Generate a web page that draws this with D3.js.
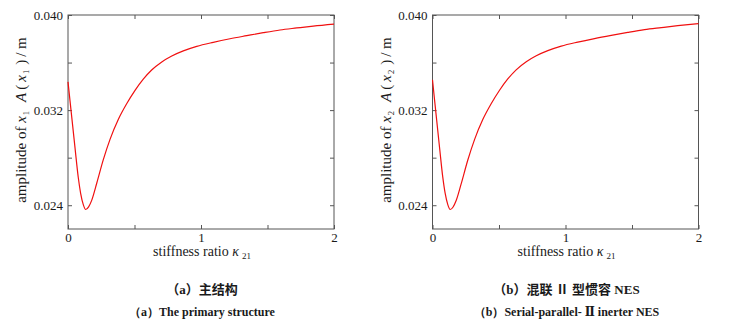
<!DOCTYPE html>
<html>
<head>
<meta charset="utf-8">
<script src="https://cdn.jsdelivr.net/npm/d3@7/dist/d3.min.js"></script>
<style>
  html, body { margin: 0; padding: 0; background: #fff; }
  svg { display: block; }
</style>
</head>
<body>
<svg id="chart" width="729" height="323"></svg>
<script>
// stiffness ratio κ21 sample points
const kappa = [0, 0.015, 0.053, 0.077, 0.095, 0.115, 0.133, 0.155, 0.178, 0.216, 0.265, 0.316, 0.378, 0.441, 0.504, 0.566, 0.629, 0.705, 0.780, 0.867, 0.968, 1.092, 1.218, 1.344, 1.468, 1.594, 1.720, 1.844, 2.0];
// amplitude of the primary structure x1 (m)
const ampX1 = [0.03438, 0.03280, 0.02880, 0.02635, 0.02500, 0.02405, 0.02364, 0.02386, 0.02441, 0.02585, 0.02781, 0.02954, 0.03121, 0.03253, 0.03366, 0.03460, 0.03537, 0.03605, 0.03655, 0.03698, 0.03736, 0.03770, 0.03800, 0.03826, 0.03851, 0.03874, 0.03891, 0.03907, 0.03924];
// amplitude of x2 for the serial-parallel-II inerter NES (m)
const ampX2 = [0.03455, 0.03290, 0.02886, 0.02638, 0.02501, 0.02405, 0.02364, 0.02385, 0.02439, 0.02581, 0.02778, 0.02952, 0.03120, 0.03253, 0.03367, 0.03462, 0.03539, 0.03607, 0.03657, 0.03700, 0.03738, 0.03772, 0.03802, 0.03829, 0.03854, 0.03877, 0.03894, 0.03910, 0.03928];

const xTicks = [0, 0.5, 1, 1.5, 2];
const xTickLabels = ["0", "", "1", "", "2"];
const yTicks = [0.024, 0.028, 0.032, 0.036, 0.040];
const yTickLabels = ["0.024", "", "0.032", "", "0.040"];

const panels = [
  { left: 68, sub: "1", values: ampX1,
    captionCn: "（a）主结构", captionEn: "（a）The primary structure" },
  { left: 432.5, sub: "2", values: ampX2,
    captionCn: "（b）混联 Ⅱ 型惯容 NES", captionEn: "（b）Serial-parallel- Ⅱ  inerter NES" }
];

const SERIF = "'Liberation Serif', 'Times New Roman', 'DejaVu Serif', serif";
const CJK = "'Liberation Serif', 'Noto Sans CJK SC', serif";
const INK = "#1a1a1a";

const svg = d3.select("#chart");
const plotW = 266, plotTop = 15, plotBottom = 229;

panels.forEach(p => {
  const x = d3.scaleLinear().domain([0, 2]).range([p.left, p.left + plotW]);
  const y = d3.scaleLinear().domain([0.022, 0.040]).range([plotBottom, plotTop]);
  const g = svg.append("g");

  // frame
  g.append("rect")
    .attr("x", p.left).attr("y", plotTop)
    .attr("width", plotW).attr("height", plotBottom - plotTop)
    .attr("fill", "none").attr("stroke", "#555").attr("stroke-width", 1);

  const tickStyle = sel => {
    sel.select(".domain").remove();
    sel.selectAll(".tick line").attr("stroke", "#555");
    sel.selectAll(".tick text")
      .style("font-family", SERIF).style("font-size", "13px").style("fill", INK);
  };

  // bottom axis with labels, ticks inside
  g.append("g").attr("transform", `translate(0,${plotBottom})`)
    .call(d3.axisBottom(x).tickValues(xTicks).tickSize(-4).tickPadding(4)
      .tickFormat((d, i) => xTickLabels[i]))
    .call(tickStyle);
  // top mirror ticks
  g.append("g").attr("transform", `translate(0,${plotTop})`)
    .call(d3.axisTop(x).tickValues(xTicks).tickSize(-4).tickFormat(""))
    .call(tickStyle);
  // left axis with labels
  g.append("g").attr("transform", `translate(${p.left},0)`)
    .call(d3.axisLeft(y).tickValues(yTicks).tickSize(-4).tickPadding(5)
      .tickFormat((d, i) => yTickLabels[i]))
    .call(tickStyle);
  // right mirror ticks
  g.append("g").attr("transform", `translate(${p.left + plotW},0)`)
    .call(d3.axisRight(y).tickValues(yTicks).tickSize(-4).tickFormat(""))
    .call(tickStyle);

  // amplitude curve
  const line = d3.line()
    .x((d, i) => x(kappa[i]))
    .y(d => y(d))
    .curve(d3.curveMonotoneX);
  g.append("path")
    .datum(p.values)
    .attr("d", line)
    .attr("fill", "none")
    .attr("stroke", "#f01010")
    .attr("stroke-width", 1.2);

  // x-axis title
  const xt = g.append("text")
    .attr("x", p.left + plotW / 2 + 1).attr("y", 256)
    .attr("text-anchor", "middle")
    .style("font-family", SERIF).style("font-size", "14px").style("fill", INK);
  xt.append("tspan").text("stiffness ratio ");
  xt.append("tspan").style("font-style", "italic").text("κ");
  xt.append("tspan").style("font-size", "9px").attr("dy", 3).attr("dx", 3).text("21");

  // y-axis title
  const yt = g.append("text")
    .attr("transform", `translate(${p.left - 42},${(plotTop + plotBottom) / 2 - 2}) rotate(-90)`)
    .attr("text-anchor", "middle")
    .style("font-family", SERIF).style("font-size", "15px").style("fill", INK);
  yt.append("tspan").text("amplitude of ");
  yt.append("tspan").style("font-style", "italic").text("x");
  yt.append("tspan").style("font-size", "8.5px").attr("dy", 3).attr("dx", 1).text(p.sub);
  yt.append("tspan").attr("dy", -3).attr("dx", 9).style("font-style", "italic").text("A");
  yt.append("tspan").attr("dx", 3).text("(");
  yt.append("tspan").attr("dx", 3).style("font-style", "italic").text("x");
  yt.append("tspan").style("font-size", "8.5px").attr("dy", 3).attr("dx", 1).text(p.sub);
  yt.append("tspan").attr("dy", -3).attr("dx", 5).text(")");
  yt.append("tspan").attr("dx", 3).text("/ m");

  // captions
  g.append("text")
    .attr("x", p.left + plotW / 2 + 1).attr("y", 294)
    .attr("text-anchor", "middle")
    .style("font-family", CJK).style("font-size", "13px").style("fill", INK)
    .style("font-weight", "bold")
    .text(p.captionCn);
  g.append("text")
    .attr("x", p.left + plotW / 2 + 1).attr("y", 316)
    .attr("text-anchor", "middle")
    .style("font-family", SERIF).style("font-size", "12px").style("fill", INK)
    .style("font-weight", "bold")
    .text(p.captionEn);
});
</script>
</body>
</html>
